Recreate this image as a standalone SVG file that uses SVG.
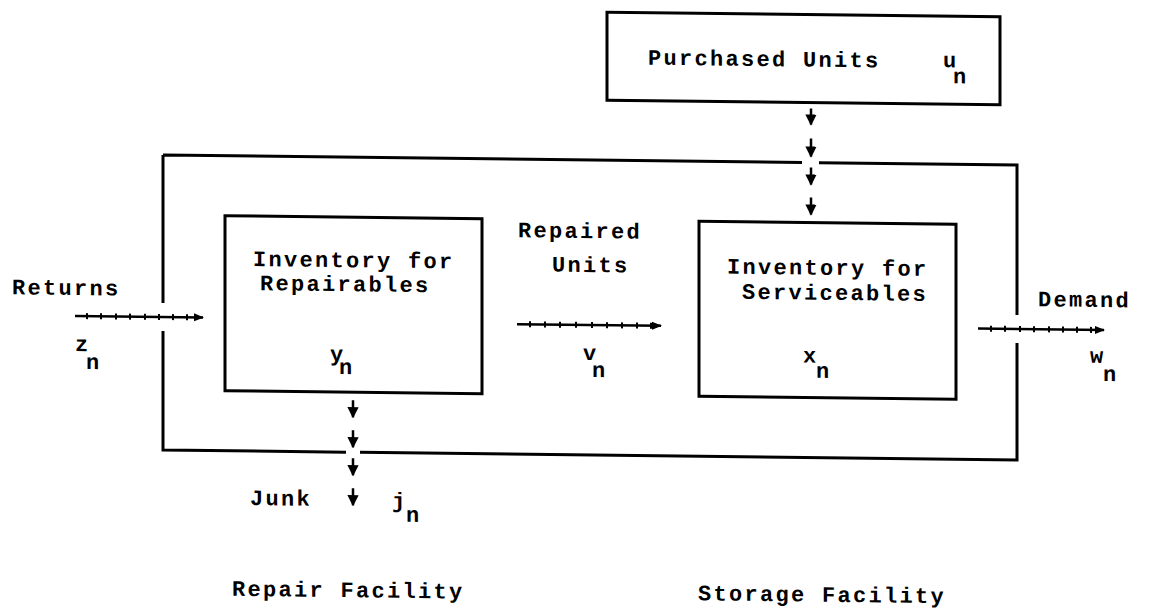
<svg xmlns="http://www.w3.org/2000/svg" width="1156" height="608" viewBox="0 0 1156 608">
<defs>
<style>
.t{font-family:"Liberation Mono","Courier New",monospace;font-size:22px;letter-spacing:2.3px;font-weight:bold;fill:#000}
.box{fill:none;stroke:#000;stroke-width:3}
.ln{fill:none;stroke:#000;stroke-width:2.5}
.tk{fill:none;stroke:#000;stroke-width:2}
</style>
<marker id="ah" viewBox="0 0 10 10" refX="9" refY="5" markerWidth="4" markerHeight="4" orient="auto" markerUnits="strokeWidth">
<path d="M0,1 L10,5 L0,9 Z" fill="#000"/>
</marker>
<marker id="dh" viewBox="0 0 10 10" refX="9" refY="5" markerWidth="4.5" markerHeight="4.5" orient="auto" markerUnits="strokeWidth">
<path d="M0,0 L10,5 L0,10 Z" fill="#000"/>
</marker>
</defs>
<rect width="1156" height="608" fill="#fff"/>
<g transform="matrix(1 0.0117 0 1 0 -1.9)">
<g id="outer">
<path class="box" d="M163 155 H802 M819 155 H1017 V305 M1017 333 V450 H360 M346 450 H163 V331 M163 303 V155"/>
</g>
<g id="purchased">
<rect class="box" x="607" y="7" width="393" height="88"/>
<text class="t" x="648" y="59">Purchased Units</text>
<text class="t" x="943" y="58">u</text>
<text class="t" x="953" y="74">n</text>
</g>
<g id="repairables">
<rect class="box" x="225" y="215" width="257" height="175"/>
<text class="t" x="253" y="265">Inventory for</text>
<text class="t" x="260" y="289">Repairables</text>
<text class="t" x="330" y="359">y</text>
<text class="t" x="339" y="372">n</text>
</g>
<g id="serviceables">
<rect class="box" x="699" y="215" width="257" height="175"/>
<text class="t" x="727" y="267">Inventory for</text>
<text class="t" x="742" y="292">Serviceables</text>
<text class="t" x="803" y="355">x</text>
<text class="t" x="816" y="370">n</text>
</g>
<g id="labels">
<text class="t" x="12" y="296">Returns</text>
<text class="t" x="75" y="352">z</text>
<text class="t" x="86" y="370">n</text>
<text class="t" x="518" y="233">Repaired</text>
<text class="t" x="552" y="267">Units</text>
<text class="t" x="583" y="355">v</text>
<text class="t" x="592" y="372">n</text>
<text class="t" x="1038" y="296">Demand</text>
<text class="t" x="1090" y="352">w</text>
<text class="t" x="1103" y="370">n</text>
<text class="t" x="250" y="504">Junk</text>
<text class="t" x="392" y="505">j</text>
<text class="t" x="406" y="519">n</text>
<text class="t" x="232" y="595">Repair Facility</text>
<text class="t" x="698" y="594">Storage Facility</text>
</g>
<g id="connectors">
<path class="ln" marker-end="url(#ah)" d="M75 317 H203"/>
<path class="tk" d="M87 314 v6 M101 314 v6 M116 314 v6 M130 314 v6 M145 314 v6 M159 314 v6 M173 314 v6 M187 314 v6"/>
<path class="ln" marker-end="url(#ah)" d="M517 320 H661"/>
<path class="tk" d="M530 317 v6 M545 317 v6 M560 317 v6 M576 317 v6 M592 317 v6 M607 317 v6 M622 317 v6 M637 317 v6 M651 317 v6"/>
<path class="ln" marker-end="url(#ah)" d="M978 319 H1104"/>
<path class="tk" d="M991 316 v6 M1005 316 v6 M1020 316 v6 M1034 316 v6 M1049 316 v6 M1063 316 v6 M1077 316 v6 M1091 316 v6"/>
<path class="ln" marker-end="url(#dh)" d="M811 101 V117"/>
<path class="ln" marker-end="url(#dh)" d="M811 131 V149"/>
<path class="ln" marker-end="url(#dh)" d="M811 160 V177"/>
<path class="ln" marker-end="url(#dh)" d="M811 190 V207"/>
<path class="ln" marker-end="url(#dh)" d="M353 398 V415"/>
<path class="ln" marker-end="url(#dh)" d="M353 428 V445"/>
<path class="ln" marker-end="url(#dh)" d="M353 456 V473"/>
<path class="ln" marker-end="url(#dh)" d="M353 486 V503"/>
</g>
</g>
</svg>
